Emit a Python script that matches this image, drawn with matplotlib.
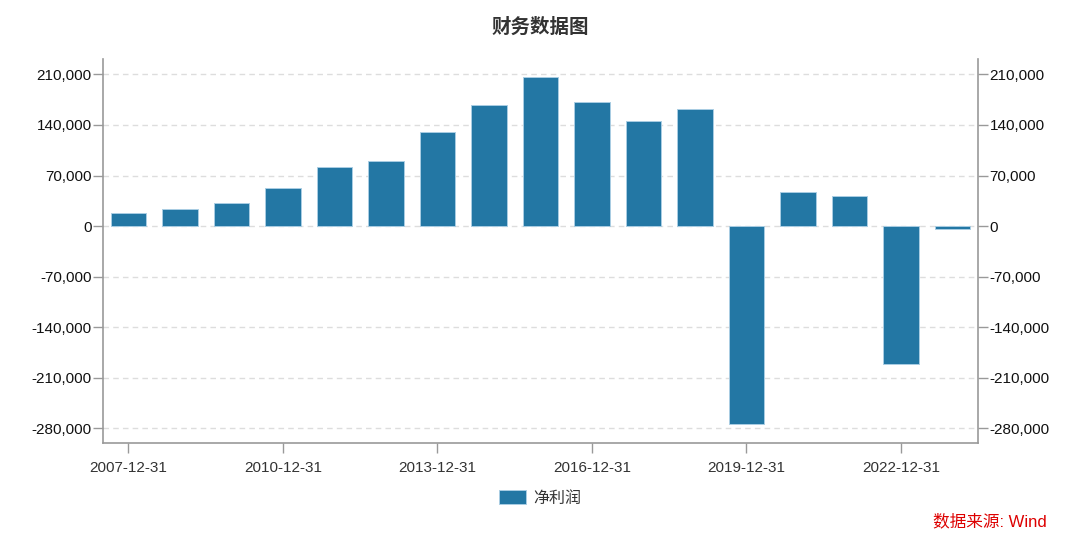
import matplotlib.pyplot as plt
from matplotlib.patches import FancyBboxPatch
from matplotlib.legend_handler import HandlerPatch
from matplotlib.ticker import FuncFormatter

plt.rcParams["font.family"] = ["Liberation Sans", "Noto Sans CJK SC"]

dates = [f"{y}-12-31" for y in range(2007, 2024)]
net_profit = [17500, 23500, 32300, 52200, 82200, 90500, 130200, 167100, 206300,
              171200, 145400, 162000, -274900, 47500, 42000, -191300, -4600]
y_ticks = [-280000, -210000, -140000, -70000, 0, 70000, 140000, 210000]
x_tick_dates = dates[::3]

BAR_COLOR = "#2377a4"
SPINE_COLOR = "#999999"


class RoundedHandler(HandlerPatch):
    def create_artists(self, legend, orig_handle, xdescent, ydescent,
                       width, height, fontsize, trans):
        p = FancyBboxPatch((-xdescent, -ydescent - 1.5), width, height + 3,
                           boxstyle="round,pad=0,rounding_size=3",
                           facecolor=BAR_COLOR, edgecolor="none", transform=trans)
        return [p]


fig = plt.figure(figsize=(10.8, 5.42), dpi=100)
ax = fig.add_axes([0.0951, 0.1821, 0.9058 - 0.0951, 0.8906 - 0.1821])

x = list(range(len(dates)))
bars = ax.bar(x, net_profit, width=0.69, color=BAR_COLOR, edgecolor="#a9cde3",
              linewidth=0.7, label="净利润", zorder=3)

ax.set_xlim(-0.5, len(dates) - 0.5)
ax.set_ylim(-301000, 231000)
ax.set_yticks(y_ticks)
ax.yaxis.set_major_formatter(FuncFormatter(lambda v, p: f"{int(v):,}"))
ax.set_xticks([dates.index(d) for d in x_tick_dates])
ax.set_xticklabels(x_tick_dates)

ax.grid(axis="y", color="#dddddd", linestyle=(0, (4, 3)), linewidth=1, zorder=0)
ax.set_axisbelow(True)

for side in ["left", "right", "bottom"]:
    ax.spines[side].set_color(SPINE_COLOR)
    ax.spines[side].set_linewidth(1.2)
ax.spines["top"].set_visible(False)

ax.tick_params(axis="y", which="both", left=True, right=True, labelleft=True,
               labelright=True, length=7, width=1, color=SPINE_COLOR, pad=1,
               labelsize=11, labelcolor="#111111")
ax.tick_params(axis="x", length=7, width=1, color=SPINE_COLOR, pad=6,
               labelsize=11, labelcolor="#333333")

fig.text(0.5, 1 - 27 / 542, "财务数据图", ha="center", va="center",
         fontsize=14, fontweight="bold", color="#333333")

fig.legend(handles=[bars], labels=["净利润"], loc="center",
           bbox_to_anchor=(0.5, 1 - 498 / 542), frameon=False, fontsize=11.5,
           handlelength=1.7, handleheight=0.9, handletextpad=0.4,
           handler_map={type(bars.patches[0]): RoundedHandler()},
           labelcolor="#333333")

fig.text(1047 / 1080, 1 - 521 / 542, "数据来源: Wind", ha="right", va="center",
         fontsize=12, color="#dd0000")

fig.savefig("out.png", dpi=100)
